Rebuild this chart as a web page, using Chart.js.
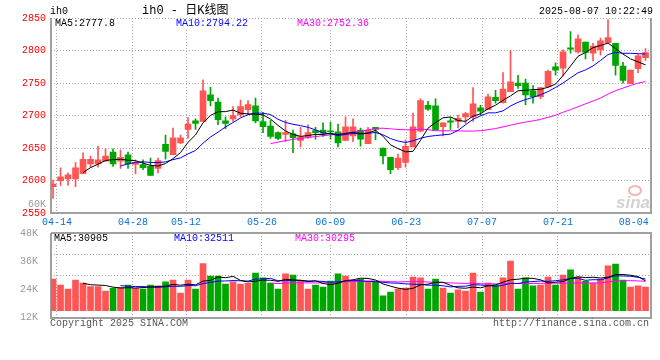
<!DOCTYPE html>
<html>
<head>
<meta charset="utf-8">
<script src="https://cdn.jsdelivr.net/npm/chart.js@4.4.1/dist/chart.umd.min.js"></script>
<style>
  body { margin: 0; background: #fff; }
  #wrap { position: relative; width: 660px; height: 360px; overflow: hidden;
          font-family: "Liberation Mono", monospace; font-size: 10px; }
  canvas { position: absolute; left: 0; top: 0; }
  .t { position: absolute; white-space: nowrap; line-height: 11px; }
</style>
</head>
<body>
<div id="wrap">
  <canvas id="k" width="660" height="360"></canvas>
  <canvas id="v" width="660" height="360"></canvas>
  <div class="t" style="left:50px;top:6px;">ih0</div>
  <div class="t" style="left:142px;top:4px;font-size:12px;line-height:14px;font-family:'Liberation Mono','Noto Sans CJK SC',monospace;">ih0 - 日K线图</div>
  <div class="t" style="right:7px;top:6px;">2025-08-07 10:22:49</div>
  <div id="legK"></div>
  <div id="legV"></div>
  <div style="position:absolute;left:628px;top:185px;width:10px;height:7px;border-radius:50%;border:2px solid #f3b6b6;"></div>
  <div class="t" style="left:616px;top:193px;font:italic bold 17px 'Liberation Sans',sans-serif;color:#d2d2d2;">sina</div>
  <div class="t" style="left:50px;top:318px;color:#555;">Copyright 2025 SINA.COM</div>
  <div class="t" style="right:11px;top:318px;color:#555;">http://finance.sina.com.cn</div>
</div>
<script>
// ---- data ----
const tickLabels = ['04-14', '04-28', '05-12', '05-26', '06-09', '06-23', '07-07', '07-21', '08-04'];
const tickIdx = [0, 10, 17, 27, 36, 46, 56, 66, 76];

const open = [2591, 2600, 2603, 2603, 2611, 2626, 2626, 2630, 2644, 2630,
              2640, 2625, 2625, 2622, 2619, 2656, 2640, 2658, 2679, 2692,
              2691, 2732, 2721, 2692, 2695, 2701, 2709, 2715, 2691, 2684,
              2674, 2671, 2672, 2662, 2667, 2677, 2678, 2676, 2675, 2662,
              2669, 2678, 2657, 2682, 2650, 2636, 2620, 2628, 2652, 2676,
              2716, 2715, 2683, 2692, 2691, 2698, 2698, 2712, 2709, 2728,
              2720, 2737, 2750, 2750, 2738, 2729, 2744, 2775, 2773, 2804,
              2798, 2813, 2796, 2801, 2812, 2811, 2776, 2749, 2772, 2789];
const high = [2601, 2620, 2612, 2628, 2643, 2638, 2653, 2649, 2649, 2647,
              2644, 2632, 2632, 2635, 2635, 2670, 2681, 2670, 2697, 2695,
              2755, 2744, 2727, 2698, 2714, 2724, 2723, 2727, 2705, 2693,
              2675, 2693, 2678, 2682, 2686, 2682, 2689, 2690, 2687, 2698,
              2695, 2681, 2682, 2682, 2650, 2636, 2641, 2663, 2704, 2726,
              2722, 2726, 2689, 2697, 2701, 2705, 2743, 2716, 2733, 2739,
              2766, 2800, 2762, 2756, 2746, 2743, 2770, 2781, 2801, 2829,
              2824, 2813, 2811, 2819, 2847, 2811, 2782, 2770, 2794, 2803];
const low = [2573, 2593, 2593, 2591, 2611, 2621, 2621, 2630, 2622, 2619,
             2619, 2611, 2617, 2608, 2612, 2633, 2640, 2657, 2665, 2679,
             2691, 2715, 2686, 2680, 2691, 2698, 2701, 2689, 2674, 2665,
             2663, 2660, 2643, 2652, 2665, 2664, 2668, 2664, 2652, 2662,
             2660, 2653, 2657, 2663, 2626, 2611, 2617, 2621, 2652, 2675,
             2708, 2678, 2669, 2679, 2681, 2688, 2691, 2701, 2709, 2719,
             2719, 2737, 2742, 2717, 2719, 2726, 2744, 2762, 2761, 2796,
             2796, 2787, 2784, 2793, 2812, 2762, 2750, 2749, 2766, 2785];
const close = [2595, 2606, 2609, 2620, 2633, 2633, 2632, 2638, 2626, 2636,
               2626, 2628, 2620, 2608, 2631, 2645, 2666, 2666, 2687, 2688,
               2738, 2723, 2694, 2688, 2700, 2714, 2717, 2692, 2683, 2668,
               2665, 2674, 2666, 2668, 2674, 2674, 2673, 2675, 2658, 2683,
               2683, 2664, 2678, 2679, 2638, 2617, 2635, 2653, 2683, 2723,
               2710, 2678, 2689, 2690, 2696, 2703, 2718, 2707, 2729, 2723,
               2741, 2752, 2746, 2732, 2729, 2743, 2768, 2770, 2798, 2802,
               2818, 2797, 2807, 2815, 2820, 2777, 2754, 2770, 2792, 2797];
const volume = [28400, 25900, 24200, 28000, 26700, 25200, 25200, 23300, 24500, 24900,
                25900, 24500, 24200, 25900, 25500, 27200, 28000, 22500, 28000, 24200,
                35000, 29700, 29700, 26300, 27200, 26300, 26600, 31000, 28900, 26700,
                24200, 30600, 30100, 27600, 24200, 25900, 25000, 27600, 30600, 29700,
                27600, 28400, 27200, 27200, 21300, 22900, 24200, 24600, 29300, 28900,
                24200, 28400, 24600, 22500, 23800, 23300, 31000, 22900, 26700, 25900,
                28900, 36100, 24200, 28900, 25500, 25900, 29300, 25900, 30100, 32300,
                29300, 27600, 26700, 28400, 34000, 34800, 28000, 25000, 25500, 25000];

const priceMaText = ['MA5:2777.8', 'MA10:2794.22', 'MA30:2752.36'];
const volMaText = ['MA5:30905', 'MA10:32511', 'MA30:30295'];
const volOverflowTick = 60000;

// ---- look ----
const UP = '#ff5555', DOWN = '#00a600';
const MA_N = [5, 10, 30];
const MA_COLORS = ['#000000', '#0000ff', '#ff00ff'];
const GRID = '#a8a8a8', FRAME = '#a0a0a0';
const VOL_BASE = 15000;

Chart.defaults.font = { family: "'Liberation Mono', monospace", size: 10 };

function movingAvg(arr, n) {
  return arr.map((_, i) => {
    if (i < n - 1) return null;
    let s = 0;
    for (let j = i - n + 1; j <= i; j++) s += arr[j];
    return s / n;
  });
}

const idx = close.map((_, i) => i);
const candleColor = idx.map(i => close[i] >= open[i] ? UP : DOWN);

function maSets(src) {
  return MA_N.map((n, k) => ({
    type: 'line',
    data: movingAvg(src, n).map((v, i) => ({ x: i, y: v })),
    borderColor: MA_COLORS[k], borderWidth: 1, pointRadius: 0,
    tension: 0, xAxisID: 'x', yAxisID: 'y', order: 0
  }));
}

function xScales(showLabels) {
  return {
    x: { type: 'linear', min: -0.27, max: 79.73, offset: false, display: false, grid: { offset: false } },
    xd: {
      type: 'linear', position: 'bottom', min: -0.79, max: 78.26, offset: false,
      afterBuildTicks: s => { s.ticks = tickIdx.map(v => ({ value: v })); },
      afterFit: s => { s.height = showLabels ? 20 : 0; },
      ticks: { display: showLabels, autoSkip: false, maxRotation: 0, minRotation: 0,
               color: '#0a72d4', padding: 3, callback: (v, i) => tickLabels[i] },
      grid: { offset: false, drawTicks: false,
              color: c => c.index === tickIdx.length - 1 ? 'rgba(0,0,0,0)' : GRID },
      border: { display: false, dash: [1, 2] }
    }
  };
}

function frame(withTop) {
  return {
    id: 'frame',
    beforeDatasetsDraw(c) {
      const a = c.chartArea, g = c.ctx;
      g.save();
      g.strokeStyle = FRAME;
      g.lineWidth = 2;
      g.beginPath();
      g.moveTo(Math.round(a.left), Math.round(a.top));
      g.lineTo(Math.round(a.left), Math.round(a.bottom));
      g.lineTo(Math.round(a.right), Math.round(a.bottom));
      g.lineTo(Math.round(a.right), Math.round(a.top));
      if (withTop) g.lineTo(Math.round(a.left), Math.round(a.top));
      g.stroke();
      g.restore();
    }
  };
}

const base = {
  responsive: false, animation: false, events: [],
  plugins: { legend: { display: false }, tooltip: { enabled: false } }
};

// price panel
new Chart(document.getElementById('k'), {
  type: 'bar',
  data: {
    datasets: [
      ...maSets(close),
      { data: idx.map(i => ({ x: i, y: [open[i], close[i]] })), backgroundColor: candleColor,
        barThickness: 6, minBarLength: 1, grouped: false, xAxisID: 'x', yAxisID: 'y', order: 1 },
      { data: idx.map(i => ({ x: i, y: [low[i], high[i]] })), backgroundColor: candleColor,
        barThickness: 1, grouped: false, xAxisID: 'x', yAxisID: 'y', order: 2 }
    ]
  },
  options: {
    ...base,
    layout: { padding: { left: 0, right: 9, top: 18, bottom: 126.7 } },
    scales: {
      ...xScales(true),
      y: {
        position: 'left', min: 2550, max: 2850, beginAtZero: false,
        afterFit: s => { s.width = 51; },
        ticks: { stepSize: 50, color: '#ff0000', padding: 5, callback: v => String(v) },
        grid: { color: GRID, drawTicks: false },
        border: { display: false, dash: [1, 2] }
      }
    }
  },
  plugins: [frame(false)]
});

// volume panel
new Chart(document.getElementById('v'), {
  type: 'bar',
  data: {
    datasets: [
      ...maSets(volume),
      { data: idx.map(i => ({ x: i, y: [VOL_BASE, volume[i]] })), backgroundColor: candleColor,
        barThickness: 6, grouped: false, xAxisID: 'x', yAxisID: 'y', order: 1 }
    ]
  },
  options: {
    ...base,
    layout: { padding: { left: 0, right: 9, top: 233, bottom: 42.3 } },
    scales: {
      ...xScales(false),
      y: {
        position: 'left', min: 12000, max: 48000, beginAtZero: false,
        afterFit: s => { s.width = 51; },
        ticks: { stepSize: 12000, color: '#999', padding: 5, callback: v => (v / 1000) + 'K' },
        grid: { display: false },
        border: { display: false }
      },
      yg: {
        position: 'right', min: 12000, max: 48000,
        afterFit: s => { s.width = 0; },
        ticks: { display: false, stepSize: 9000 },
        grid: { color: GRID, drawTicks: false },
        border: { display: false, dash: [1, 2] }
      }
    }
  },
  plugins: [frame(true), {
    id: 'overflowTick',
    afterDraw(c) {
      const s = c.scales.y, g = c.ctx;
      g.save();
      g.font = "10px 'Liberation Mono', monospace";
      g.fillStyle = '#999';
      g.textAlign = 'right';
      g.textBaseline = 'middle';
      g.fillText((volOverflowTick / 1000) + 'K', s.right - 5, s.getPixelForValue(volOverflowTick));
      g.restore();
    }
  }]
});

// legend rows
function legendRow(el, texts, xs, top) {
  texts.forEach((t, k) => {
    const d = document.createElement('div');
    d.className = 't';
    d.textContent = t;
    d.style.cssText = `left:${xs[k]}px;top:${top}px;color:${MA_COLORS[k]};background:#fff;line-height:10px;`;
    el.appendChild(d);
  });
}
legendRow(document.getElementById('legK'), priceMaText, [55, 176, 297], 18.5);
legendRow(document.getElementById('legV'), volMaText, [54, 174, 295], 234);
</script>
</body>
</html>
